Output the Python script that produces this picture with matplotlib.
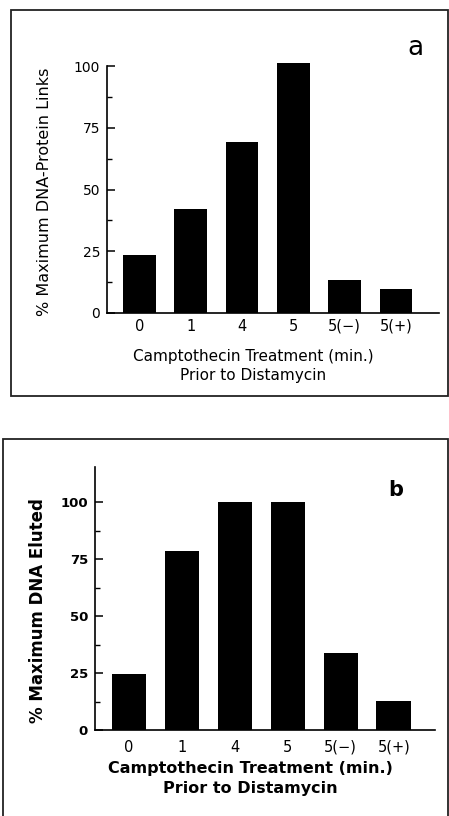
import matplotlib
matplotlib.use("Agg")
import matplotlib.pyplot as plt
from matplotlib.ticker import FixedLocator
from matplotlib.patches import Rectangle

categories = ["0", "1", "4", "5", "5(\u2212)", "5(+)"]
links_a = [23.3, 42.1, 69.2, 101.3, 13.2, 9.7]
eluted_b = [24.8, 78.7, 100.4, 100.4, 33.9, 12.7]
yticks = [0, 25, 50, 75, 100]
yminor = [12.5, 37.5, 62.5, 87.5]

W, H = 449, 816
fig = plt.figure(figsize=(W / 100, H / 100), dpi=100)
fig.patch.set_facecolor("white")

def fx(x):
    return x / W

def fy(y):
    return 1 - y / H

def make_axes(x0, x1, y_top, y_bot):
    return fig.add_axes([fx(x0), fy(y_bot), fx(x1) - fx(x0), fy(y_top) - fy(y_bot)])

# border boxes
fig.patches.append(Rectangle((fx(11), fy(396)), fx(448) - fx(11), fy(10) - fy(396),
                             transform=fig.transFigure, fill=False, lw=1.3,
                             edgecolor="#222222"))
fig.patches.append(Rectangle((fx(3), fy(830)), fx(448) - fx(3), fy(439) - fy(830),
                             transform=fig.transFigure, fill=False, lw=1.3,
                             edgecolor="#222222", clip_on=False))

def style(ax, weight_y, ysize):
    for s in ["top", "right"]:
        ax.spines[s].set_visible(False)
    for s in ["left", "bottom"]:
        ax.spines[s].set_linewidth(1.2)
        ax.spines[s].set_color("black")
    ax.set_yticks(yticks)
    ax.yaxis.set_minor_locator(FixedLocator(yminor))
    ax.tick_params(axis="y", which="major", direction="in", length=6, width=1.1,
                   labelsize=ysize, pad=5)
    ax.tick_params(axis="y", which="minor", direction="in", length=3.5, width=1.0)
    ax.tick_params(axis="x", length=0, pad=4)
    for lab in ax.get_yticklabels():
        lab.set_fontweight(weight_y)
    ax.set_facecolor("none")

x = list(range(len(categories)))

# Panel a
ax1 = make_axes(107, 439, 66, 313)
ax1.bar(x, links_a, width=0.64, color="black", clip_on=False)
ax1.set_xlim(-0.634, 5.84)
ax1.set_ylim(0, 100)
style(ax1, "normal", 10)
ax1.set_xticks(x)
ax1.set_xticklabels(categories, fontsize=10.5)
fig.text(fx(253), fy(356), "Camptothecin Treatment (min.)", ha="center", va="center",
         fontsize=11)
fig.text(fx(253), fy(376), "Prior to Distamycin", ha="center", va="center", fontsize=11)
fig.text(fx(45), fy(192), "% Maximum DNA-Protein Links", ha="center", va="center",
         rotation=90, fontsize=11.5)
fig.text(fx(415), fy(48), "a", ha="center", va="center", fontsize=19)

# Panel b
ax2 = make_axes(95, 435, 467, 730)
ax2.bar(x, eluted_b, width=0.65, color="black")
ax2.set_xlim(-0.64, 5.78)
ax2.set_ylim(0, 115.6)
style(ax2, "bold", 9.5)
ax2.tick_params(axis="x", pad=7)
ax2.set_xticks(x)
ax2.set_xticklabels(categories, fontsize=10.5)
fig.text(fx(250), fy(768), "Camptothecin Treatment (min.)", ha="center", va="center",
         fontsize=11.5, fontweight="bold")
fig.text(fx(250), fy(788), "Prior to Distamycin", ha="center", va="center",
         fontsize=11.5, fontweight="bold")
fig.text(fx(38), fy(611), "% Maximum DNA Eluted", ha="center", va="center",
         rotation=90, fontsize=12, fontweight="bold")
fig.text(fx(396), fy(490), "b", ha="center", va="center", fontsize=15,
         fontweight="bold")

fig.savefig("out.png", dpi=100, facecolor="white")
